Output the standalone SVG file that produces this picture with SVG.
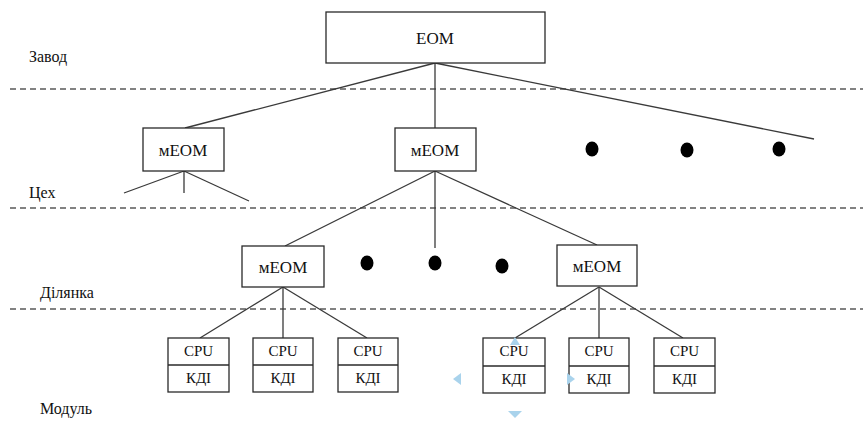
<svg xmlns="http://www.w3.org/2000/svg" width="863" height="421" viewBox="0 0 863 421">
<style>
.box{fill:#fff;stroke:#2a2a2a;stroke-width:1.3}
.t{font-family:'Liberation Serif','Times New Roman',Tinos,'DejaVu Serif',serif;fill:#111;text-anchor:middle;dominant-baseline:central}
.big{font-size:17px}
.sm{font-size:15px}
.lbl{font-family:'Liberation Serif','Times New Roman',Tinos,'DejaVu Serif',serif;font-size:16px;fill:#111}
.dash{stroke:#5a5a5a;stroke-width:1.6;stroke-dasharray:6 4;fill:none}
.con line{stroke:#3a3a3a;stroke-width:1.3}
.dot{fill:#000}
.hnd{fill:#a9d3ec}
.div{stroke:#2a2a2a;stroke-width:1.3}
</style>
<rect width="863" height="421" fill="#fff"/>
<g id="levels">
<line class="dash" x1="10" y1="89" x2="863" y2="89"/>
<line class="dash" x1="10" y1="208" x2="863" y2="208"/>
<line class="dash" x1="10" y1="309" x2="863" y2="309"/>
<text class="lbl" x="29" y="62">Завод</text>
<text class="lbl" x="29" y="198">Цех</text>
<text class="lbl" x="40" y="298">Ділянка</text>
<text class="lbl" x="40" y="414">Модуль</text>
</g>
<g class="con" id="connectors">
<line x1="435" y1="63" x2="185" y2="128"/>
<line x1="435" y1="63" x2="435" y2="128"/>
<line x1="435" y1="63" x2="814" y2="139"/>
<line x1="184" y1="171" x2="124" y2="193"/>
<line x1="184" y1="171" x2="184" y2="193"/>
<line x1="184" y1="171" x2="249" y2="201"/>
<line x1="435" y1="171" x2="285" y2="246"/>
<line x1="435" y1="171" x2="435" y2="248"/>
<line x1="435" y1="171" x2="597" y2="245"/>
<line x1="283" y1="287" x2="200" y2="338"/>
<line x1="283" y1="287" x2="283" y2="338"/>
<line x1="283" y1="287" x2="367" y2="338"/>
<line x1="599" y1="287" x2="515" y2="338"/>
<line x1="599" y1="287" x2="599" y2="338"/>
<line x1="599" y1="287" x2="683" y2="338"/>
</g>
<g id="eom"><rect class="box" x="326" y="12" width="219" height="51"/><text class="t big" x="435" y="38">EOM</text></g>
<g id="meom1"><rect class="box" x="143" y="128" width="81" height="43"/><text class="t big" x="183" y="150">мEOM</text></g>
<g id="meom2"><rect class="box" x="395" y="128" width="81" height="43"/><text class="t big" x="435" y="150">мEOM</text></g>
<g id="meom3"><rect class="box" x="242" y="246" width="82" height="41"/><text class="t big" x="283" y="267">мEOM</text></g>
<g id="meom4"><rect class="box" x="557" y="245" width="80" height="41"/><text class="t big" x="597" y="266">мEOM</text></g>
<g id="dots">
<ellipse class="dot" cx="592" cy="149" rx="6.5" ry="7.5"/>
<ellipse class="dot" cx="687" cy="150" rx="6.5" ry="7.5"/>
<ellipse class="dot" cx="779" cy="149" rx="6.5" ry="7.5"/>
<ellipse class="dot" cx="367" cy="263" rx="6.5" ry="7.5"/>
<ellipse class="dot" cx="435" cy="263" rx="6.5" ry="7.5"/>
<ellipse class="dot" cx="502" cy="266" rx="6.5" ry="7.5"/>
</g>
<g id="m1"><rect class="box" x="168" y="338" width="61" height="54"/><line class="div" x1="168" y1="365" x2="229" y2="365"/><text class="t sm" x="198.5" y="351">CPU</text><text class="t sm" x="198.5" y="378">КДІ</text></g>
<g id="m2"><rect class="box" x="253" y="338" width="60" height="54"/><line class="div" x1="253" y1="365" x2="313" y2="365"/><text class="t sm" x="283" y="351">CPU</text><text class="t sm" x="283" y="378">КДІ</text></g>
<g id="m3"><rect class="box" x="338" y="338" width="60" height="54"/><line class="div" x1="338" y1="365" x2="398" y2="365"/><text class="t sm" x="368" y="351">CPU</text><text class="t sm" x="368" y="378">КДІ</text></g>
<g id="m4"><rect class="box" x="483" y="338" width="62" height="55"/><line class="div" x1="483" y1="366" x2="545" y2="366"/><text class="t sm" x="514" y="351">CPU</text><text class="t sm" x="514" y="379">КДІ</text></g>
<g id="m5"><rect class="box" x="569" y="338" width="60" height="55"/><line class="div" x1="569" y1="366" x2="629" y2="366"/><text class="t sm" x="599" y="351">CPU</text><text class="t sm" x="599" y="379">КДІ</text></g>
<g id="m6"><rect class="box" x="654" y="338" width="61" height="55"/><line class="div" x1="654" y1="366" x2="715" y2="366"/><text class="t sm" x="684.5" y="351">CPU</text><text class="t sm" x="684.5" y="379">КДІ</text></g>
<g id="handles">
<polygon class="hnd" points="515,337 520,345 510,345"/>
<polygon class="hnd" points="453,379 461,373 461,385"/>
<polygon class="hnd" points="575,379 567,373 567,385"/>
<polygon class="hnd" points="515,418 508,411 522,411"/>
</g>
</svg>
